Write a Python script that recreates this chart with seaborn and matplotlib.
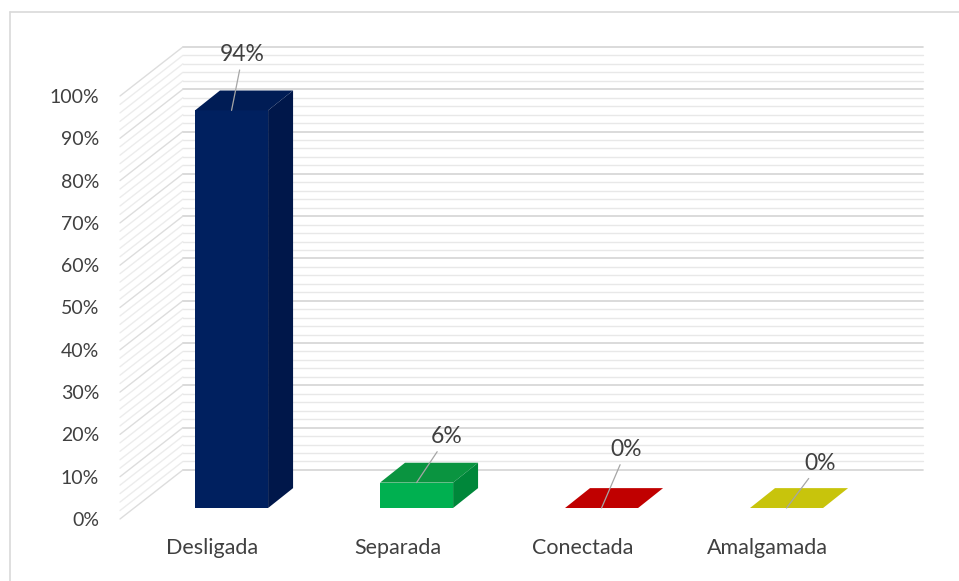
import matplotlib
matplotlib.use("Agg")
import matplotlib.pyplot as plt
from matplotlib.patches import Polygon
from matplotlib.lines import Line2D
import seaborn as sns

categories = ["Desligada", "Separada", "Conectada", "Amalgamada"]
values = [94, 6, 0, 0]
labels = ["94%", "6%", "0%", "0%"]

front_colors = ["#00205f", "#00b050", "#c00000", "#c8c40c"]
top_colors = ["#001c55", "#0a9440", "#c00000", "#c8c40c"]
side_colors = ["#00174a", "#00873a", "#a00000", "#aaa600"]

# label offsets in points from the front top centre of each bar
label_offsets = [(8, 40), (22, 33), (18, 42), (24, 32)]

sns.set_theme(style="white")
plt.rcParams["font.family"] = ["Lato", "DejaVu Sans"]

fig = plt.figure(figsize=(9.59, 5.81), dpi=100)
ax = fig.add_axes([120 / 959, 62 / 581, 740 / 959, 423 / 581])

sns.barplot(x=categories, y=values, hue=categories, palette=front_colors,
            saturation=1, width=0.395, legend=False, ax=ax, zorder=3, linewidth=0)

ax.set_xlim(-0.5, 3.5)
ax.set_ylim(0, 100)

# depth of the wall and of the bars (fake 3d)
wall_dx, wall_dy = 0.34, 11.6
bar_off_dx, bar_off_dy = 0.103, 2.6
bar_dx, bar_dy = 0.135, 4.7

for v in range(0, 101, 2):
    major = v % 10 == 0
    ax.plot([-0.5 + wall_dx, 3.5 + wall_dx], [v + wall_dy] * 2,
            color="#d4d4d4" if major else "#e8e8e8", lw=1.2 if major else 1.0,
            clip_on=False, zorder=0)
    ax.plot([-0.5, -0.5 + wall_dx], [v, v + wall_dy],
            color="#dddddd" if major else "#ececec", lw=1.0,
            clip_on=False, zorder=0)

bars = sorted(ax.patches, key=lambda p: p.get_x())
for i, p in enumerate(bars):
    p.set_x(p.get_x() + bar_off_dx)
    p.set_y(p.get_y() + bar_off_dy)
    p.set_clip_on(False)
    x0 = p.get_x()
    x1 = x0 + p.get_width()
    y0 = p.get_y()
    y1 = y0 + p.get_height()
    top = Polygon([(x0, y1), (x1, y1), (x1 + bar_dx, y1 + bar_dy), (x0 + bar_dx, y1 + bar_dy)],
                  closed=True, facecolor=top_colors[i], edgecolor="none",
                  clip_on=False, zorder=3)
    side = Polygon([(x1, y0), (x1 + bar_dx, y0 + bar_dy), (x1 + bar_dx, y1 + bar_dy), (x1, y1)],
                   closed=True, facecolor=side_colors[i], edgecolor="none",
                   clip_on=False, zorder=3)
    ax.add_patch(top)
    ax.add_patch(side)
    ax.annotate(labels[i], xy=((x0 + x1) / 2, y1), xytext=label_offsets[i],
                textcoords="offset points", ha="center", va="center",
                fontsize=16.5, color="#404040", zorder=5, annotation_clip=False,
                arrowprops=dict(arrowstyle="-", color="#a6a6a6", lw=0.9,
                                shrinkA=1, shrinkB=0))

ax.set_yticks(range(0, 101, 10))
ax.set_yticklabels([f"{v}%" for v in range(0, 101, 10)])
ax.tick_params(axis="y", length=0, pad=15, labelsize=14, labelcolor="#404040")
ax.tick_params(axis="x", length=0, pad=14, labelsize=15.5, labelcolor="#404040")
ax.set_xlabel("")
ax.set_ylabel("")
for s in ax.spines.values():
    s.set_visible(False)
ax.patch.set_alpha(0)

fig.add_artist(Line2D([10 / 959, 1], [1 - 12 / 581] * 2, color="#d9d9d9", lw=1.2))
fig.add_artist(Line2D([10 / 959] * 2, [0, 1 - 12 / 581], color="#d9d9d9", lw=1.2))

fig.savefig("out.png", dpi=100)
